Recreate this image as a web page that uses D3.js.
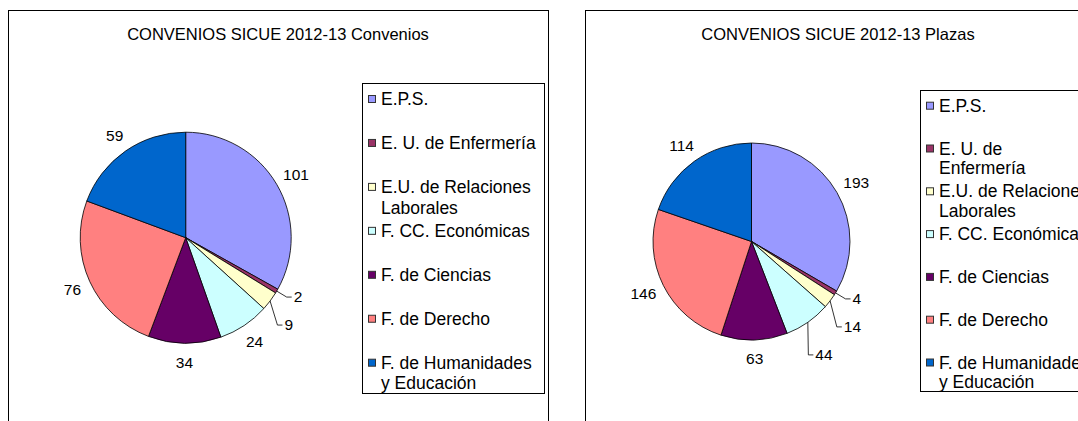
<!DOCTYPE html>
<html>
<head>
<meta charset="utf-8">
<script src="https://cdn.jsdelivr.net/npm/d3@7"></script>
<style>
  body { margin: 0; background: #fff; }
  svg { display: block; font-family: "Liberation Sans", Arial, sans-serif; }
</style>
</head>
<body>
<div id="chart"></div>
<script>
// data
var categories = ['E.P.S.', 'E. U. de Enfermería', 'E.U. de Relaciones Laborales', 'F. CC. Económicas',
  'F. de Ciencias', 'F. de Derecho', 'F. de Humanidades y Educación'];
var convenios = [101, 2, 9, 24, 34, 76, 59];
var plazas = [193, 4, 14, 44, 63, 146, 114];
var colors = ['#9999FF', '#993366', '#FFFFCC', '#CCFFFF', '#660066', '#FF8080', '#0066CC'];
// legend text as it wraps in each chart
var legendConvenios = [['E.P.S.'], ['E. U. de Enfermería'], ['E.U. de Relaciones', 'Laborales'], ['F. CC. Económicas'],
  ['F. de Ciencias'], ['F. de Derecho'], ['F. de Humanidades', 'y Educación']];
var legendPlazas = [['E.P.S.'], ['E. U. de', 'Enfermería'], ['E.U. de Relaciones', 'Laborales'], ['F. CC. Económicas'],
  ['F. de Ciencias'], ['F. de Derecho'], ['F. de Humanidades', 'y Educación']];

var width = 1078, height = 421;
var svg = d3.select('#chart').append('svg').attr('width', width).attr('height', height);
svg.append('rect').attr('width', width).attr('height', height).attr('fill', '#fff');

function drawPanel(cfg, values, legendLines) {
  var panel = svg.append('g');
  panel.append('rect')
    .attr('x', cfg.box[0] + 0.5).attr('y', cfg.box[1] + 0.5)
    .attr('width', cfg.box[2]).attr('height', 500)
    .attr('fill', '#fff').attr('stroke', '#000').attr('stroke-width', 1);

  panel.append('text')
    .attr('x', cfg.box[0] + cfg.box[2] / 2).attr('y', cfg.titleY)
    .attr('text-anchor', 'middle').attr('dy', '0.35em')
    .attr('font-size', 16.5).text(cfg.title);

  // pie
  var r = cfg.r;
  var pie = d3.pie().sort(null).value(function(d) { return d; });
  var arcs = pie(values);
  var arcGen = d3.arc().innerRadius(0).outerRadius(r);
  var g = panel.append('g').attr('transform', 'translate(' + cfg.cx + ',' + cfg.cy + ')');

  g.selectAll('path.slice')
    .data(arcs)
    .enter()
    .append('path')
    .attr('class', 'slice')
    .attr('d', arcGen)
    .attr('fill', function(d, i) { return colors[i]; })
    .attr('stroke', '#000')
    .attr('stroke-width', 0.8);

  // labels: outside the slice, crowded ones pushed out with a leader line
  var total = d3.sum(values);
  var labels = g.selectAll('text.lbl')
    .data(arcs)
    .enter()
    .append('text')
    .attr('class', 'lbl')
    .attr('font-size', 15.5)
    .attr('text-anchor', 'middle')
    .attr('dy', '0.35em')
    .text(function(d) { return d.value; });

  var boxes = [];
  labels.each(function(d) {
    var a = (d.startAngle + d.endAngle) / 2;
    var s = Math.sin(a), c = -Math.cos(a);
    var w = this.getComputedTextLength(), h = 14;
    var b = { s: s, c: c, w: w, h: h, leader: false };
    if (d.value / total < 0.02 && s > 0) {
      b.x = r * s + 17 + w / 2;
      b.y = r * c + 6;
      b.leader = true;
    } else {
      b.x = (r + 12) * s + w / 2 * s * 0.8;
      b.y = (r + 12) * c + h / 2 * c;
    }
    boxes.push(b);
  });

  var prev = null, pad = 14;
  boxes.forEach(function(b) {
    if (b.s > 0.1 && b.c > 0) {
      if (prev) {
        var gapX = (prev.x - prev.w / 2) - (b.x + b.w / 2);
        var need = prev.y + prev.h / 2 + pad + b.h / 2;
        if (gapX < 19 && b.y < need) {
          var ux = b.s, uy = b.c + 1, n = Math.hypot(ux, uy);
          var t = (need - b.y) / (uy / n);
          b.x += ux / n * t;
          b.y = need;
          if (t > 10) b.leader = true;
        }
      }
      prev = b;
    }
  });

  labels.attr('x', function(d, i) { return boxes[i].x; })
    .attr('y', function(d, i) { return boxes[i].y; });

  boxes.forEach(function(b) {
    if (!b.leader) return;
    var left = b.x - b.w / 2;
    var pts = [[r * b.s, r * b.c], [left - 7, b.y], [left - 2, b.y]];
    g.append('path')
      .attr('d', d3.line()(pts))
      .attr('fill', 'none')
      .attr('stroke', '#000')
      .attr('stroke-width', 0.8);
  });

  // legend
  var lg = cfg.legend;
  panel.append('rect')
    .attr('x', lg.x + 0.5).attr('y', lg.y + 0.5)
    .attr('width', lg.w).attr('height', lg.h)
    .attr('fill', '#fff').attr('stroke', '#000').attr('stroke-width', 1);

  var items = panel.selectAll('g.item')
    .data(categories)
    .enter()
    .append('g')
    .attr('class', 'item')
    .attr('transform', function(d, i) { return 'translate(0,' + (lg.first + i * lg.step) + ')'; });

  items.append('rect')
    .attr('x', lg.x + 6.5).attr('y', -3.5)
    .attr('width', 7).attr('height', 7)
    .attr('fill', function(d, i) { return colors[i]; })
    .attr('stroke', '#333').attr('stroke-width', 1);

  items.append('text')
    .attr('font-size', 17.5)
    .each(function(d, i) {
      var t = d3.select(this);
      legendLines[i].forEach(function(line, k) {
        t.append('tspan')
          .attr('x', lg.x + 19).attr('y', k * lg.lineH)
          .attr('dy', '0.35em')
          .text(line);
      });
    });
}

drawPanel({
  title: 'CONVENIOS SICUE 2012-13 Convenios',
  box: [8, 10, 540], titleY: 34,
  cx: 185.7, cy: 237.7, r: 105.5,
  legend: { x: 362, y: 83, w: 182, h: 310, first: 99, step: 43.95, lineH: 20.5 }
}, convenios, legendConvenios);

drawPanel({
  title: 'CONVENIOS SICUE 2012-13 Plazas',
  box: [585, 10, 506], titleY: 34,
  cx: 751.5, cy: 241.5, r: 98.5,
  legend: { x: 920, y: 90, w: 180, h: 301, first: 105.7, step: 42.8, lineH: 19.5 }
}, plazas, legendPlazas);
</script>
</body>
</html>
